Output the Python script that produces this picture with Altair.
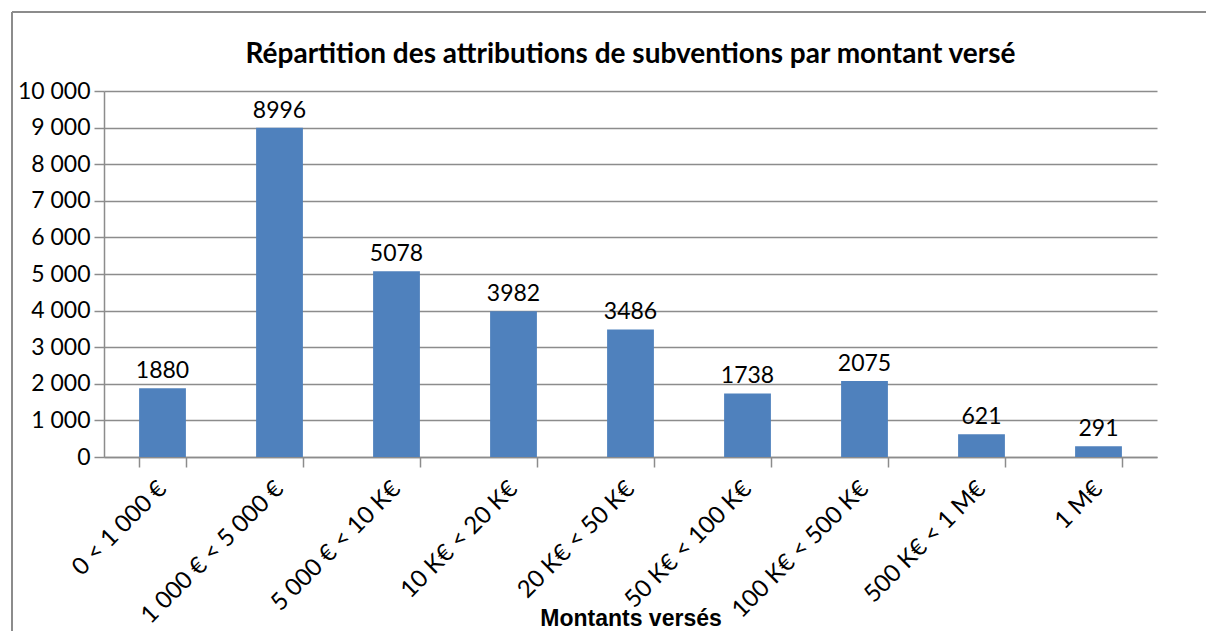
import altair as alt
import pandas as pd

categories = ["0 < 1 000 €", "1 000 € < 5 000 €", "5 000 € < 10 K€", "10 K€ < 20 K€",
              "20 K€ < 50 K€", "50 K€ < 100 K€", "100 K€ <  500 K€", "500 K€ < 1 M€", "1 M€"]
values = [1880, 8996, 5078, 3982, 3486, 1738, 2075, 621, 291]
y_ticks = [0, 1000, 2000, 3000, 4000, 5000, 6000, 7000, 8000, 9000, 10000]

df = pd.DataFrame({"cat": categories, "val": values})

FONT = "Lato"
GRID = "#8c8c8c"

x = alt.X("cat:N", sort=categories,
          scale=alt.Scale(paddingInner=0.6, paddingOuter=0.3),
          axis=alt.Axis(title="Montants versés", titleFont="Liberation Sans", titleFontSize=23,
                        titleFontWeight="bold", titleColor="#000", titleY=168, titleBaseline="alphabetic",
                        labelAngle=-45, labelAlign="right", labelBaseline="middle",
                        labelFont=FONT, labelFontSize=24, labelColor="#000", labelPadding=18,
                        labelOverlap=False, labelLimit=0,
                        tickBand="extent", tickSize=10, tickColor=GRID, domainColor=GRID,
                        domainWidth=1.5, tickWidth=1.5))
y = alt.Y("val:Q", scale=alt.Scale(domain=[0, 10000]),
          axis=alt.Axis(title=None, values=y_ticks, labelOverlap=False,
                        labelExpr="replace(format(datum.value, ',d'), ',', ' ')",
                        labelFont=FONT, labelFontSize=23, labelColor="#000", labelPadding=4,
                        tickSize=10, tickColor=GRID, domainColor=GRID, gridColor=GRID,
                        gridWidth=1.5, domainWidth=1.5, tickWidth=1.5))

bars = alt.Chart(df).mark_bar(color="#4F81BD").encode(x=x, y=y)
labels = alt.Chart(df).mark_text(font=FONT, fontSize=23, color="#000", baseline="bottom", dy=-5).encode(
    x=x, y=y, text="val:Q")

frame_left = alt.Chart(df).mark_rule(color="#8c8c8c", strokeWidth=1.5).encode(
    x=alt.value(-92), y=alt.value(-79), y2=alt.value(560))
frame_top = alt.Chart(df).mark_rule(color="#8c8c8c", strokeWidth=1.5).encode(
    x=alt.value(-92), x2=alt.value(1110), y=alt.value(-79))

chart = alt.layer(frame_left, frame_top, bars, labels).properties(
    width=1053, height=366,
    autosize=alt.AutoSizeParams(type="none"),
    padding={"left": 96, "top": 83, "right": 49, "bottom": 174},
    title=alt.TitleParams("Répartition des attributions de subventions par montant versé",
                          font=FONT, fontSize=28, fontWeight="bold", color="#000",
                          anchor="middle", baseline="alphabetic", offset=-80),
).configure_view(stroke=None).configure_axis(grid=False).configure_axisY(grid=True)

chart.save("out.html", embed_options={"renderer": "svg", "actions": False})
